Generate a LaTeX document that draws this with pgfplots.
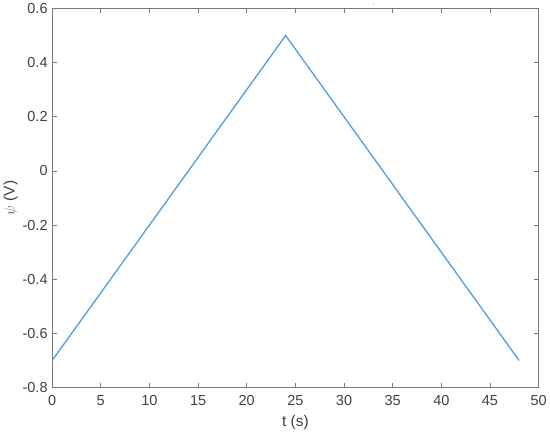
\documentclass[border=0pt]{standalone}
\usepackage{fontspec}
\setmainfont{Liberation Sans}
\usepackage{pgfplots}
\pgfplotsset{compat=1.18}
\definecolor{mblue}{RGB}{77,160,220}
\definecolor{axgray}{RGB}{120,120,120}
\definecolor{txtgray}{RGB}{64,64,64}
\begin{document}
\begin{tikzpicture}[x=1bp,y=1bp]
\begin{axis}[
  scale only axis,
  width=485bp, height=378bp,
  xmin=0, xmax=50, ymin=-0.8, ymax=0.6,
  xtick={0,5,...,50},
  ytick={-0.8,-0.6,-0.4,-0.2,0,0.2,0.4,0.6},
  yticklabel={\ifdim\tick pt=0pt 0\else\pgfmathprintnumber[fixed,fixed zerofill,precision=1]{\tick}\fi},
  /pgf/number format/assume math mode=true,
  axis line style={axgray, line width=0.8bp},
  tick style={axgray, line width=0.8bp},
  major tick length=5bp,
  tick align=inside,
  xtick pos=both, ytick pos=both,
  ticklabel style={font=\fontsize{14.5}{16}\selectfont, text=txtgray},
  xticklabel style={yshift=-4bp},
  yticklabel style={xshift=-1bp},
  xlabel={t (s)}, ylabel={$\psi$ (V)},
  label style={font=\fontsize{15.5}{17}\selectfont, text=txtgray},
  xlabel style={yshift=-3bp},
  ylabel style={yshift=-2bp},
  title={\tiny .}, title style={yshift=-6bp, xshift=78bp},
]
\addplot[mblue, line width=1.3bp] coordinates {(0,-0.7) (24,0.5) (48,-0.7)};
\end{axis}
\end{tikzpicture}
\end{document}
